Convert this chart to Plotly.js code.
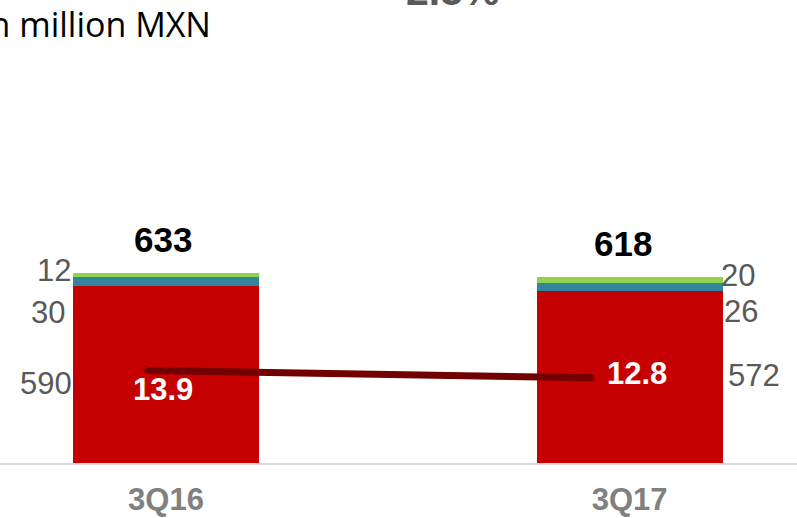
<!DOCTYPE html>
<html>
<head>
<meta charset="utf-8">
<script src="https://cdn.plot.ly/plotly-3.0.1.min.js"></script>
<style>html,body{margin:0;padding:0;background:#fff;}#chart{width:797px;height:518px;}</style>
</head>
<body>
<div id="chart"></div>
<script>
// ---- data ----
const categories = ["3Q16", "3Q17"];
const seriesRed = [590, 572];
const seriesBlue = [30, 26];
const seriesGreen = [12, 20];
const totalLabels = ["633", "618"];
const lineValues = [13.9, 12.8];
const lineLabels = ["13.9", "12.8"];
const changeLabel = "2.5%";
const unitLabel = "In million MXN";

// ---- layout helpers ----
const W = 797, Hh = 518, B = 55;
const plotH = Hh - B;
function px(x) { return x / W; }
function py(y) { return 1 - y / plotH; }

const totals = categories.map((c, i) => seriesRed[i] + seriesBlue[i] + seriesGreen[i]);

const traces = [
  { type: "bar", x: categories, y: seriesRed, marker: { color: "#c40000" }, hoverinfo: "skip" },
  { type: "bar", x: categories, y: seriesBlue, marker: { color: "#31859c" }, hoverinfo: "skip" },
  { type: "bar", x: categories, y: seriesGreen, marker: { color: "#92d050" }, hoverinfo: "skip" },
  { type: "scatter", mode: "lines+markers", x: categories, y: lineValues, xaxis: "x2", yaxis: "y2",
    line: { color: "#730000", width: 7 }, marker: { color: "#730000", size: 7 }, hoverinfo: "skip" }
];

const lblFont = { family: "Liberation Sans, Arial, sans-serif", size: 31, color: "#595959" };
const annotations = [];

// unit and change label
annotations.push({ xref: "paper", yref: "paper", x: px(213), y: py(24), xanchor: "right", yanchor: "middle",
  text: unitLabel, showarrow: false, font: { family: "Open Sans, sans-serif", size: 34, color: "#000" } });
annotations.push({ xref: "paper", yref: "paper", x: px(404), y: py(-9), xanchor: "left", yanchor: "middle",
  text: changeLabel, showarrow: false, font: { family: "Liberation Sans, Arial, sans-serif", size: 41, color: "#595959", weight: "bold" } });

// totals on top of bars
const totShift = [[-3, 33], [-6.5, 34]];
categories.forEach((c, i) => {
  annotations.push({ xref: "x", yref: "y", x: i, y: totals[i], xshift: totShift[i][0], yshift: totShift[i][1],
    xanchor: "center", yanchor: "middle", text: "<b>" + totalLabels[i] + "</b>", showarrow: false,
    font: { family: "Liberation Sans, Arial, sans-serif", size: 35, color: "#000" } });
});

// segment labels (left of 3Q16, right of 3Q17)
const segPos = [
  [[54, 270], [48.3, 312.5], [45.8, 383.3]],
  [[738.3, 275.8], [741, 311.7], [754, 375.8]]
];
categories.forEach((c, i) => {
  const vals = [seriesGreen[i], seriesBlue[i], seriesRed[i]];
  vals.forEach((v, k) => {
    annotations.push({ xref: "paper", yref: "paper", x: px(segPos[i][k][0]), y: py(segPos[i][k][1]),
      xanchor: "center", yanchor: "middle", text: String(v), showarrow: false, font: lblFont });
  });
});

// line labels
const lineShift = [[15.3, -18.6], [46, 4]];
categories.forEach((c, i) => {
  annotations.push({ xref: "x2", yref: "y2", x: i, y: lineValues[i], xshift: lineShift[i][0], yshift: lineShift[i][1],
    xanchor: "center", yanchor: "middle", text: "<b>" + lineLabels[i] + "</b>", showarrow: false,
    font: { family: "Liberation Sans, Arial, sans-serif", size: 31, color: "#ffffff" } });
});

const layout = {
  width: W, height: Hh,
  margin: { l: 0, r: 0, t: 0, b: B, pad: 0 },
  paper_bgcolor: "#ffffff", plot_bgcolor: "#ffffff",
  barmode: "stack", bargap: 0.599,
  showlegend: false,
  xaxis: { type: "category", range: [-0.358, 1.361], showline: true, linecolor: "#d9d9d9", linewidth: 2,
    showgrid: false, zeroline: false, ticks: "", fixedrange: true,
    tickfont: { family: "Liberation Sans, Arial, sans-serif", size: 31, color: "#808080", weight: "bold" },
    ticklabelstandoff: 8 },
  yaxis: { range: [0, 1540], visible: false, showgrid: false, zeroline: false, fixedrange: true },
  xaxis2: { type: "category", overlaying: "x", range: [-0.334, 1.465], visible: false, fixedrange: true },
  yaxis2: { overlaying: "y", range: [0, 69.6], visible: false, showgrid: false, zeroline: false, fixedrange: true },
  annotations: annotations
};

Plotly.newPlot("chart", traces, layout, { displayModeBar: false, staticPlot: true });
</script>
</body>
</html>
